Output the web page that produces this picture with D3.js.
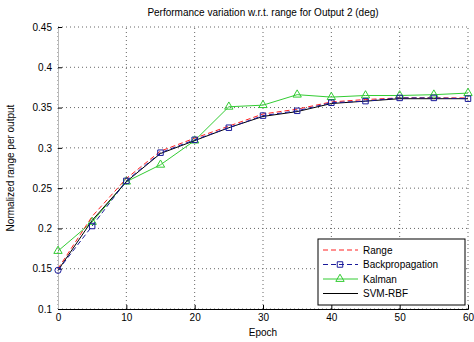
<!DOCTYPE html>
<html><head><meta charset="utf-8">
<script src="https://cdn.jsdelivr.net/npm/d3@7"></script>
<style>body{margin:0;background:#fff}svg{display:block}text{font-family:"Liberation Sans",Arial,sans-serif}</style>
</head><body><div id="chart"></div>
<script>
const xValues = [0,5,10,15,20,25,30,35,40,45,50,55,60];
const rangeVals = [0.150,0.215,0.262,0.296,0.312,0.327,0.342,0.348,0.357,0.360,0.362,0.362,0.362];
const backpropVals = [0.148,0.203,0.259,0.294,0.310,0.325,0.340,0.346,0.356,0.358,0.362,0.362,0.361];
const kalmanVals = [0.172,0.208,0.258,0.279,0.309,0.351,0.353,0.366,0.363,0.365,0.365,0.366,0.368];
const svmVals = [0.148,0.210,0.258,0.293,0.309,0.325,0.339,0.345,0.355,0.358,0.361,0.361,0.361];
const xTicks = [0,10,20,30,40,50,60];
const yTicks = [0.1,0.15,0.2,0.25,0.3,0.35,0.4,0.45];
const seriesNames = ["Range","Backpropagation","Kalman","SVM-RBF"];

const W=474,H=342;
const m={l:58,r:6,t:27,b:33};
const svg=d3.select("#chart").append("svg").attr("width",W).attr("height",H);
const x=d3.scaleLinear().domain([0,60]).range([m.l,W-m.r]);
const y=d3.scaleLinear().domain([0.1,0.45]).range([H-m.b,m.t]);

// grid
const g=svg.append("g");
g.selectAll(".vg").data(xTicks).join("line").attr("x1",d=>x(d)).attr("x2",d=>x(d))
 .attr("y1",y(0.1)).attr("y2",y(0.45)).attr("stroke","#666").attr("stroke-width",1).attr("stroke-dasharray","1,3");
g.selectAll(".hg").data(yTicks).join("line").attr("x1",x(0)).attr("x2",x(60))
 .attr("y1",d=>y(d)).attr("y2",d=>y(d)).attr("stroke","#666").attr("stroke-width",1).attr("stroke-dasharray","1,3");

// axes
const xa=svg.append("g").attr("transform",`translate(0,${y(0.1)})`)
 .call(d3.axisBottom(x).tickValues(xTicks).tickSize(-4).tickPadding(5).tickFormat(d3.format("d")));
const ya=svg.append("g").attr("transform",`translate(${x(0)},0)`)
 .call(d3.axisLeft(y).tickValues(yTicks).tickSize(-4).tickPadding(6).tickFormat(d=>String(+d.toFixed(2))));
[xa,ya].forEach(a=>{a.selectAll("text").attr("font-size",10).attr("fill","#000").style("font-family","Liberation Sans, Arial");
 a.selectAll("line,path").attr("stroke","#000");});
ya.select("path").attr("stroke","#bbb");

const line=d3.line().x((d,i)=>x(xValues[i])).y(d=>y(d));
const series=[
 {name:seriesNames[0],vals:rangeVals,color:"#ff2020",dash:"5,3",marker:"none"},
 {name:seriesNames[1],vals:backpropVals,color:"#1a1a9a",dash:"5,3",marker:"square"},
 {name:seriesNames[2],vals:kalmanVals,color:"#33cc33",dash:null,marker:"triangle"},
 {name:seriesNames[3],vals:svmVals,color:"#000",dash:null,marker:"none"}
];
const drawOrder=[2,0,3,1];
drawOrder.forEach(k=>{
 const s=series[k];
 svg.append("path").datum(s.vals).attr("d",line).attr("fill","none").attr("stroke",s.color)
  .attr("stroke-width",1).attr("stroke-dasharray",s.dash);
 if(s.marker!=="none"){
  svg.selectAll(null).data(s.vals).join("path")
   .attr("d",(d,i)=>d3.symbol().type(s.marker==="square"?(i===0?d3.symbolCircle:d3.symbolSquare):d3.symbolTriangle).size(30)())
   .attr("transform",(d,i)=>`translate(${x(xValues[i])},${y(d)})`)
   .attr("fill","none").attr("stroke",s.color).attr("stroke-width",1);
 }
});

// labels
svg.append("text").attr("x",(x(0)+x(60))/2).attr("y",16).attr("text-anchor","middle").attr("font-size",10)
 .text("Performance variation w.r.t. range for Output 2 (deg)");
svg.append("text").attr("x",(x(0)+x(60))/2).attr("y",H-6).attr("text-anchor","middle").attr("font-size",10).text("Epoch");
svg.append("text").attr("transform",`translate(14,${(y(0.1)+y(0.45))/2}) rotate(-90)`).attr("text-anchor","middle")
 .attr("font-size",10).text("Normalized range per output");

// legend
const lg=svg.append("g").attr("transform","translate(318,239)");
lg.append("rect").attr("width",147).attr("height",66).attr("fill","#fff").attr("stroke","#000");
series.forEach((s,i)=>{
 const yy=11+i*14.5;
 lg.append("line").attr("x1",5).attr("x2",40).attr("y1",yy).attr("y2",yy).attr("stroke",s.color).attr("stroke-dasharray",s.dash);
 if(s.marker!=="none"){
  const sym=d3.symbol().type(s.marker==="square"?d3.symbolSquare:d3.symbolTriangle).size(30);
  lg.append("path").attr("d",sym).attr("transform",`translate(22,${yy})`).attr("fill","none").attr("stroke",s.color);
 }
 lg.append("text").attr("x",45).attr("y",yy+3.5).attr("font-size",10).text(s.name);
});
</script></body></html>
